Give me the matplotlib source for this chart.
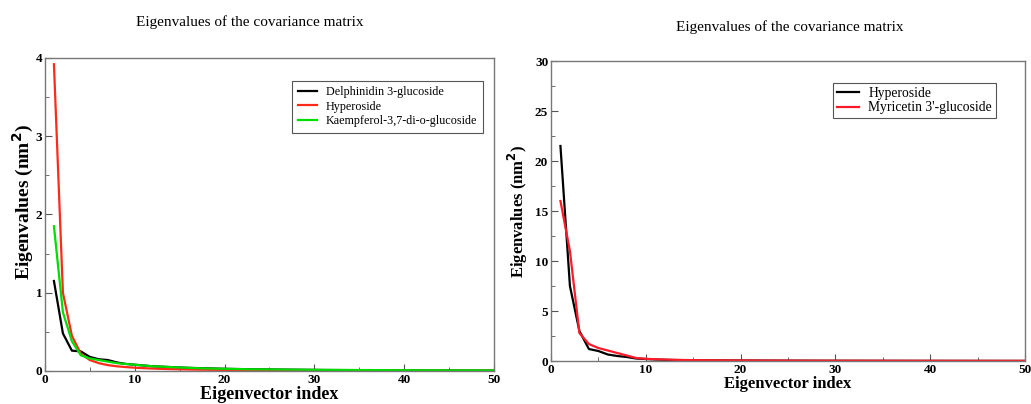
import matplotlib
matplotlib.use("Agg")
import matplotlib.pyplot as plt
import numpy as np

plt.rcParams['font.family'] = ['Liberation Serif', 'DejaVu Serif']

# eigenvector index 1..50
idx = np.arange(1, 51)

# left panel: eigenvalues (nm^2)
delphinidin = [1.15, 0.48, 0.26, 0.25, 0.18, 0.15, 0.14, 0.11, 0.09, 0.08,
               0.07, 0.06, 0.055, 0.05, 0.045, 0.04, 0.037, 0.034, 0.031, 0.028,
               0.026, 0.024, 0.022, 0.02, 0.019, 0.018, 0.017, 0.016, 0.015, 0.014,
               0.013, 0.012, 0.012, 0.011, 0.011, 0.01, 0.01, 0.009, 0.009, 0.008,
               0.008, 0.008, 0.007, 0.007, 0.007, 0.006, 0.006, 0.006, 0.005, 0.005]
hyperoside_l = [3.92, 1.0, 0.45, 0.22, 0.14, 0.1, 0.075, 0.06, 0.05, 0.042,
                0.036, 0.031, 0.027, 0.024, 0.021, 0.019, 0.017, 0.016, 0.015, 0.014,
                0.013, 0.012, 0.011, 0.01, 0.01, 0.009, 0.009, 0.008, 0.008, 0.007,
                0.007, 0.007, 0.006, 0.006, 0.006, 0.005, 0.005, 0.005, 0.005, 0.004,
                0.004, 0.004, 0.004, 0.004, 0.003, 0.003, 0.003, 0.003, 0.003, 0.003]
kaempferol = [1.85, 0.75, 0.38, 0.2, 0.16, 0.14, 0.12, 0.1, 0.09, 0.08,
              0.07, 0.06, 0.055, 0.05, 0.045, 0.04, 0.036, 0.033, 0.03, 0.028,
              0.026, 0.024, 0.022, 0.021, 0.02, 0.019, 0.018, 0.017, 0.016, 0.015,
              0.014, 0.014, 0.013, 0.013, 0.012, 0.012, 0.011, 0.011, 0.01, 0.01,
              0.01, 0.009, 0.009, 0.009, 0.008, 0.008, 0.008, 0.008, 0.007, 0.007]

# right panel
hyperoside_r = [21.5, 7.5, 3.0, 1.2, 1.0, 0.65, 0.5, 0.4, 0.25, 0.2,
                0.15, 0.12, 0.1, 0.09, 0.08, 0.07, 0.065, 0.06, 0.055, 0.05,
                0.047, 0.044, 0.041, 0.038, 0.036, 0.034, 0.032, 0.03, 0.028, 0.027,
                0.026, 0.025, 0.024, 0.023, 0.022, 0.021, 0.02, 0.019, 0.018, 0.018,
                0.017, 0.016, 0.016, 0.015, 0.015, 0.014, 0.014, 0.013, 0.013, 0.012]
myricetin = [16.0, 11.0, 2.8, 1.7, 1.3, 1.05, 0.8, 0.55, 0.3, 0.22,
             0.18, 0.15, 0.12, 0.1, 0.09, 0.08, 0.072, 0.066, 0.06, 0.055,
             0.051, 0.047, 0.044, 0.041, 0.038, 0.036, 0.034, 0.032, 0.03, 0.029,
             0.028, 0.027, 0.026, 0.025, 0.024, 0.023, 0.022, 0.021, 0.02, 0.02,
             0.019, 0.018, 0.018, 0.017, 0.017, 0.016, 0.016, 0.015, 0.015, 0.014]

title = "Eigenvalues of the covariance matrix"

fig = plt.figure(figsize=(10.31, 4.04), dpi=100)
ax1 = fig.add_axes([0.0436, 0.0817, 0.4355, 0.7748])
ax2 = fig.add_axes([0.5344, 0.1064, 0.4598, 0.7426])

ax1.plot(idx, delphinidin, color='black', lw=1.6, label='Delphinidin 3-glucoside')
ax1.plot(idx, hyperoside_l, color='#ff2a1a', lw=1.6, label='Hyperoside')
ax1.plot(idx, kaempferol, color='#00dd00', lw=1.6, label='Kaempferol-3,7-di-o-glucoside')

ax2.plot(idx, hyperoside_r, color='black', lw=1.6, label='Hyperoside')
ax2.plot(idx, myricetin, color='#ff1a2a', lw=1.6, label="Myricetin 3'-glucoside")

def style(ax, ymax, ymajor, yminor, xsize, ysize):
    ax.set_xlim(0, 50)
    ax.set_ylim(0, ymax)
    ax.set_xticks(np.arange(0, 51, 10))
    ax.set_xticks(np.arange(0, 51, 5), minor=True)
    ax.set_yticks(np.arange(0, ymax + 0.01, ymajor))
    ax.set_yticks(np.arange(0, ymax + 0.01, yminor), minor=True)
    ax.tick_params(which='both', direction='in', colors='#555555', labelcolor='black',
                   labelsize=9.5, pad=2)
    ax.tick_params(which='major', length=5)
    ax.tick_params(which='minor', length=3)
    for lab in ax.get_xticklabels() + ax.get_yticklabels():
        lab.set_fontweight('bold')
    for sp in ax.spines.values():
        sp.set_color('#777777')
        sp.set_linewidth(1.0)
    ax.set_xlabel('Eigenvector index', fontsize=xsize, fontweight='bold', labelpad=0)
    ax.set_ylabel('Eigenvalues (nm$^\\mathbf{2}$)', fontsize=ysize, fontweight='bold')

style(ax1, 4, 1, 0.5, 13, 14)
style(ax2, 30, 5, 2.5, 12, 12)
ax1.set_yticklabels(['0', '1', '2', '3', '4'], fontweight='bold')
ax2.set_yticklabels(['0', '5', '10', '15', '20', '25', '30'], fontweight='bold')
ax1.yaxis.set_label_coords(-0.02, 0.54)
ax2.yaxis.set_label_coords(-0.044, 0.5)

leg1 = ax1.legend(loc='upper right', bbox_to_anchor=(0.975, 0.927), fontsize=8.7,
                  fancybox=False, edgecolor='#555555', framealpha=1, borderaxespad=0,
                  handlelength=1.6, handletextpad=0.75, borderpad=0.45, labelspacing=0.2)
leg1.get_frame().set_linewidth(0.8)
leg2 = ax2.legend(loc='upper right', bbox_to_anchor=(0.939, 0.927), fontsize=9.8,
                  fancybox=False, edgecolor='#555555', framealpha=1, borderaxespad=0,
                  handlelength=1.6, handletextpad=0.7, borderpad=0.3, labelspacing=0.1)
leg2.get_frame().set_linewidth(0.8)

fig.text(0.2425, 0.946, title, ha='center', va='center', fontsize=11)
fig.text(0.766, 0.933, title, ha='center', va='center', fontsize=11)

fig.savefig('out.png', dpi=100)
